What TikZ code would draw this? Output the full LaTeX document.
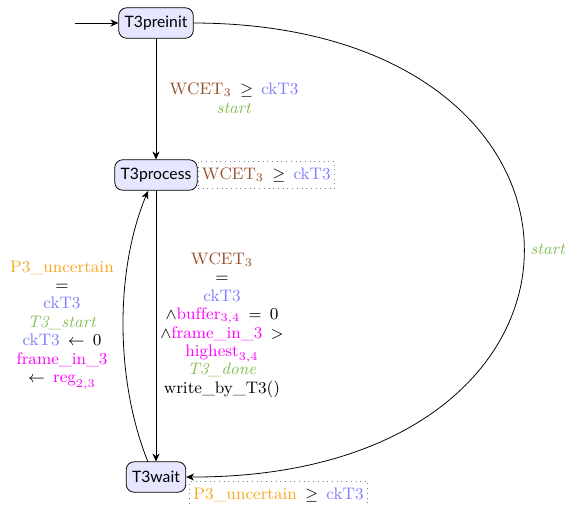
\documentclass[tikz,border=0pt]{standalone}
\usepackage{fontspec}
\newfontfamily\latofont{Lato}
\usetikzlibrary{arrows.meta}
\definecolor{cbrown}{RGB}{150,80,40}
\definecolor{cblue}{RGB}{125,125,255}
\definecolor{cgreen}{RGB}{130,190,80}
\definecolor{cmag}{RGB}{255,0,255}
\definecolor{corange}{RGB}{250,165,30}
\definecolor{stfill}{RGB}{230,230,255}
\newcommand{\wcet}{\textcolor{cbrown}{$\mathrm{WCET}_3$}}
\newcommand{\ckt}{\textcolor{cblue}{ckT3}}
\newcommand{\myrel}[1]{\hspace{1.3pt} $#1$ \hspace{1.3pt}}
\begin{document}
\begin{tikzpicture}[x=0.51pt,y=-0.51pt,
  >={Stealth[length=4pt,width=3.6pt,inset=1.2pt]},
  every node/.style={font=\fontsize{8.5}{9.4}\selectfont},
  state/.style={draw, rounded corners=4pt, fill=stfill, font=\footnotesize\latofont, minimum height=15.5pt, inner xsep=3pt},
  inv/.style={draw=gray, dotted, inner xsep=2pt, minimum height=12pt},
  lab/.style={align=center, inner sep=1pt}]
\useasboundingbox (0,0) rectangle (570,505);
\node[state] (pre) at (156,23) {T3preinit};
\node[state] (proc) at (156,175) {T3process};
\node[state] (wait) at (156,477) {T3wait};
\coordinate (init) at (75,23);
\draw[->] (init) -- (pre);
\node[inv, anchor=west] (invp) at (proc.east) {\wcet\myrel{\geq}\ckt};
\node[inv, anchor=north west] (invw) at ([xshift=1.5pt,yshift=-2pt]wait.east) {\textcolor{corange}{P3\_uncertain}\myrel{\geq}\ckt};
\draw[->] (pre) -- (proc);
\node[lab] (l1) at (234,98) {\wcet\myrel{\geq}\ckt\\ \textcolor{cgreen}{\textit{start}}};
\draw[->] (proc) -- (wait);
\node[lab] (l2) at (222,325) {\wcet\\ =\\ \ckt\\ $\wedge$\textcolor{cmag}{$\mathrm{buffer}_{3,4}$}\myrel{=}0\\ $\wedge$\textcolor{cmag}{frame\_in\_3}\myrel{>}\\ \textcolor{cmag}{$\mathrm{highest}_{3,4}$}\\ \textcolor{cgreen}{\textit{T3\_done}}\\ write\_by\_T3()};
\coordinate (ws) at (148,462);
\coordinate (pb) at (148,191);
\draw[->] (ws) .. controls (115,380) and (115,270) .. (pb);
\node[lab] (l3) at (62,325) {\textcolor{corange}{P3\_uncertain}\\ =\\ \ckt\\ \textcolor{cgreen}{\textit{T3\_start}}\\ \ckt\myrel{\leftarrow}0\\ \textcolor{cmag}{frame\_in\_3}\\ $\leftarrow$\hspace{1.3pt} \textcolor{cmag}{$\mathrm{reg}_{2,3}$}};
\draw[->] (pre.east) .. controls (635,24) and (635,478) .. (wait.east);
\node[lab, anchor=west] (l4) at (528,249) {\textcolor{cgreen}{\textit{start}}};
\end{tikzpicture}
\end{document}
